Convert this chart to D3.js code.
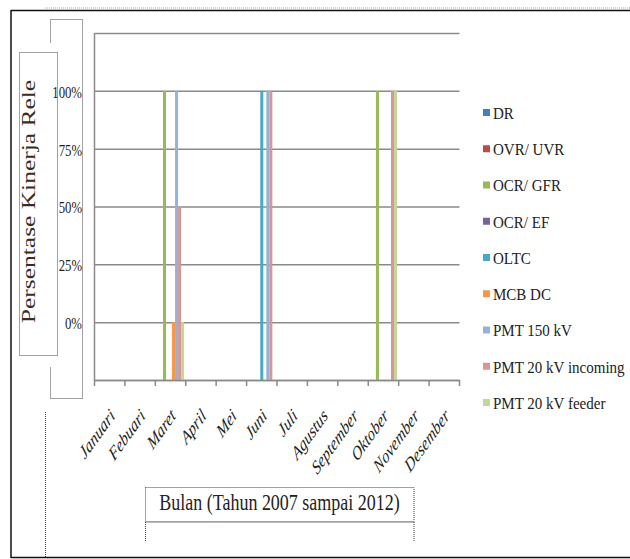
<!DOCTYPE html>
<html>
<head>
<meta charset="utf-8">
<script src="https://cdn.jsdelivr.net/npm/d3@7"></script>
<style>
body { margin: 0; background: #fff; }
svg { display: block; }
text { font-family: "Liberation Serif", "Times New Roman", serif; fill: #222; }
</style>
</head>
<body>
<svg id="chart" width="630" height="559"></svg>
<script>
var months = ['Januari', 'Febuari', 'Maret', 'April', 'Mei', 'Juni', 'Juli',
              'Agustus', 'September', 'Oktober', 'November', 'Desember'];
var seriesNames = ['DR', 'OVR/ UVR', 'OCR/ GFR', 'OCR/ EF', 'OLTC', 'MCB DC',
                   'PMT 150 kV', 'PMT 20 kV incoming', 'PMT 20 kV feeder'];
var seriesColors = ['#4a7ebb', '#be4b48', '#98b954', '#7d60a0', '#46aac5',
                    '#f79646', '#95b3d7', '#d99694', '#c3d69b'];

// values per month, on the chart's own 0 - 1.2 axis
var dr        = [0, 0, 0,   0, 0, 0, 0, 0, 0, 0, 0, 0];
var ovrUvr    = [0, 0, 0,   0, 0, 0, 0, 0, 0, 0, 0, 0];
var ocrGfr    = [0, 0, 1.0, 0, 0, 0, 0, 0, 0, 1.0, 0, 0];
var ocrEf     = [0, 0, 0,   0, 0, 0, 0, 0, 0, 0, 0, 0];
var oltc      = [0, 0, 0,   0, 0, 1.0, 0, 0, 0, 0, 0, 0];
var mcbDc     = [0, 0, 0.2, 0, 0, 0, 0, 0, 0, 0, 0, 0];
var pmt150    = [0, 0, 1.0, 0, 0, 1.0, 0, 0, 0, 0, 0, 0];
var pmt20In   = [0, 0, 0.6, 0, 0, 1.0, 0, 0, 0, 1.0, 0, 0];
var pmt20Feed = [0, 0, 0.2, 0, 0, 0, 0, 0, 0, 1.0, 0, 0];

var yMax = 1.2;
var yTickValues = [1.0, 0.8, 0.6, 0.4, 0.2];
var yTickLabels = ['100%', '75%', '50%', '25%', '0%'];

var yTitle = 'Persentase Kinerja Rele';
var xTitle = 'Bulan (Tahun 2007 sampai 2012)';

var seriesValues = [dr, ovrUvr, ocrGfr, ocrEf, oltc, mcbDc, pmt150, pmt20In, pmt20Feed];

var svg = d3.select('#chart');
var squeeze = 0.75;   // the whole picture looks squashed sideways
var gridColor = '#8a8a8a';
var dotted = '#444';

// frame
svg.append('line').attr('x1', 45).attr('x2', 630).attr('y1', 8).attr('y2', 8)
  .attr('stroke', '#aaa').attr('stroke-dasharray', '1,1');
svg.append('line').attr('x1', 11).attr('x2', 630).attr('y1', 10.5).attr('y2', 10.5)
  .attr('stroke', '#111').attr('stroke-width', 1.5);
svg.append('line').attr('x1', 11).attr('x2', 11).attr('y1', 10).attr('y2', 558)
  .attr('stroke', '#111').attr('stroke-width', 1.5);
svg.append('line').attr('x1', 11).attr('x2', 630).attr('y1', 557.5).attr('y2', 557.5)
  .attr('stroke', '#111').attr('stroke-width', 1.5);
svg.append('line').attr('x1', 45.5).attr('x2', 45.5).attr('y1', 412).attr('y2', 557)
  .attr('stroke', dotted).attr('stroke-dasharray', '1,1');

// scales
var x0 = d3.scaleBand().domain(months).range([94.5, 459.5]);
var x1 = d3.scaleBand().domain(seriesNames).range([0, x0.bandwidth()])
  .paddingInner(0).paddingOuter(0.55);
var y = d3.scaleLinear().domain([0, yMax]).range([380, 33]);

// grid lines
svg.append('g')
  .attr('transform', 'translate(94.5,0)')
  .call(d3.axisLeft(y).ticks(6).tickSize(-365).tickFormat(''))
  .call(function(g) { g.select('.domain').remove(); })
  .selectAll('line')
    .attr('stroke', gridColor)
    .attr('stroke-width', 1.5);

// value axis line
svg.append('line')
  .attr('x1', 94.5).attr('x2', 94.5)
  .attr('y1', y(yMax)).attr('y2', y(0))
  .attr('stroke', gridColor).attr('stroke-width', 1.5);

// bars
var barGroups = svg.selectAll('.series')
  .data(seriesNames)
  .enter().append('g')
    .attr('class', 'series')
    .attr('fill', function(d, i) { return seriesColors[i]; });

barGroups.selectAll('rect')
  .data(function(d, i) {
      return months.map(function(m, j) { return {month: m, name: d, value: seriesValues[i][j]}; });
  })
  .enter().append('rect')
    .attr('x', function(d) { return x0(d.month) + x1(d.name); })
    .attr('width', x1.bandwidth())
    .attr('y', function(d) { return y(d.value); })
    .attr('height', function(d) { return y(0) - y(d.value); });

// category axis
var xAxis = svg.append('g')
  .attr('transform', 'translate(0,380)')
  .call(d3.axisBottom(x0).tickSize(0).tickFormat(''));
xAxis.select('.domain').attr('stroke', gridColor).attr('stroke-width', 1.5);

var edges = months.map(function(m) { return x0(m); }).concat([x0.range()[1]]);
svg.selectAll('.xtick')
  .data(edges)
  .enter().append('line')
    .attr('class', 'xtick')
    .attr('x1', function(d) { return d; })
    .attr('x2', function(d) { return d; })
    .attr('y1', 380).attr('y2', 386)
    .attr('stroke', gridColor).attr('stroke-width', 1.5);

svg.selectAll('.xlab')
  .data(months)
  .enter().append('text')
    .attr('class', 'xlab')
    .attr('transform', function(m) {
        return 'translate(' + (x0(m) + x0.bandwidth() / 2 + 6) + ',417) scale(0.72,1) rotate(-45)';
    })
    .attr('text-anchor', 'end')
    .style('font-style', 'italic')
    .style('font-size', '19.5px')
    .text(function(m) { return m; });

// tick label box and y title box
svg.append('rect')
  .attr('x', 50.5).attr('y', 19.5).attr('width', 32).attr('height', 379)
  .attr('fill', 'none').attr('stroke', dotted).attr('stroke-dasharray', '1,1');
svg.append('rect')
  .attr('x', 17).attr('y', 43).attr('width', 42).attr('height', 324)
  .attr('fill', '#fff');
svg.append('rect')
  .attr('x', 19.5).attr('y', 52.5).attr('width', 38).attr('height', 303)
  .attr('fill', '#fff').attr('stroke', dotted).attr('stroke-dasharray', '1,1');

svg.selectAll('.ylab')
  .data(yTickValues)
  .enter().append('text')
    .attr('class', 'ylab')
    .attr('transform', function(d) { return 'translate(82,' + (y(d) + 1) + ') scale(' + squeeze + ',1)'; })
    .attr('dy', '0.35em')
    .attr('text-anchor', 'end')
    .style('font-size', '17px')
    .text(function(d, i) { return yTickLabels[i]; });

svg.append('text')
  .attr('transform', 'translate(35,201.5) scale(' + squeeze + ',1) rotate(-90)')
  .attr('text-anchor', 'middle')
  .style('font-size', '25.5px')
  .style('fill', '#3a2c22')
  .text(yTitle);

// x title box
svg.append('rect')
  .attr('x', 145.5).attr('y', 487.5).attr('width', 268.5).attr('height', 34)
  .attr('fill', 'none').attr('stroke', dotted).attr('stroke-dasharray', '1,1');
svg.append('line').attr('x1', 145.5).attr('x2', 414).attr('y1', 522.5).attr('y2', 522.5)
  .attr('stroke', '#777').attr('stroke-dasharray', '1,1');
svg.append('line').attr('x1', 145.5).attr('x2', 145.5).attr('y1', 522).attr('y2', 541)
  .attr('stroke', dotted).attr('stroke-dasharray', '1,1');
svg.append('line').attr('x1', 414).attr('x2', 414).attr('y1', 522).attr('y2', 541)
  .attr('stroke', dotted).attr('stroke-dasharray', '1,1');

svg.append('text')
  .attr('transform', 'translate(279.5,509.5) scale(' + squeeze + ',1)')
  .attr('text-anchor', 'middle')
  .style('font-size', '24px')
  .text(xTitle);

// legend
var legend = svg.selectAll('.legend')
  .data(seriesNames)
  .enter().append('g')
    .attr('class', 'legend')
    .attr('transform', function(d, i) { return 'translate(483,' + (113 + i * 36.25) + ')'; });

legend.append('rect')
  .attr('x', 0).attr('y', -4)
  .attr('width', 7).attr('height', 7)
  .attr('fill', function(d, i) { return seriesColors[i]; });

legend.append('text')
  .attr('transform', 'translate(10,0) scale(0.91,1)')
  .attr('dy', '0.35em')
  .style('font-size', '16.5px')
  .text(function(d) { return d; });
</script>
</body>
</html>
